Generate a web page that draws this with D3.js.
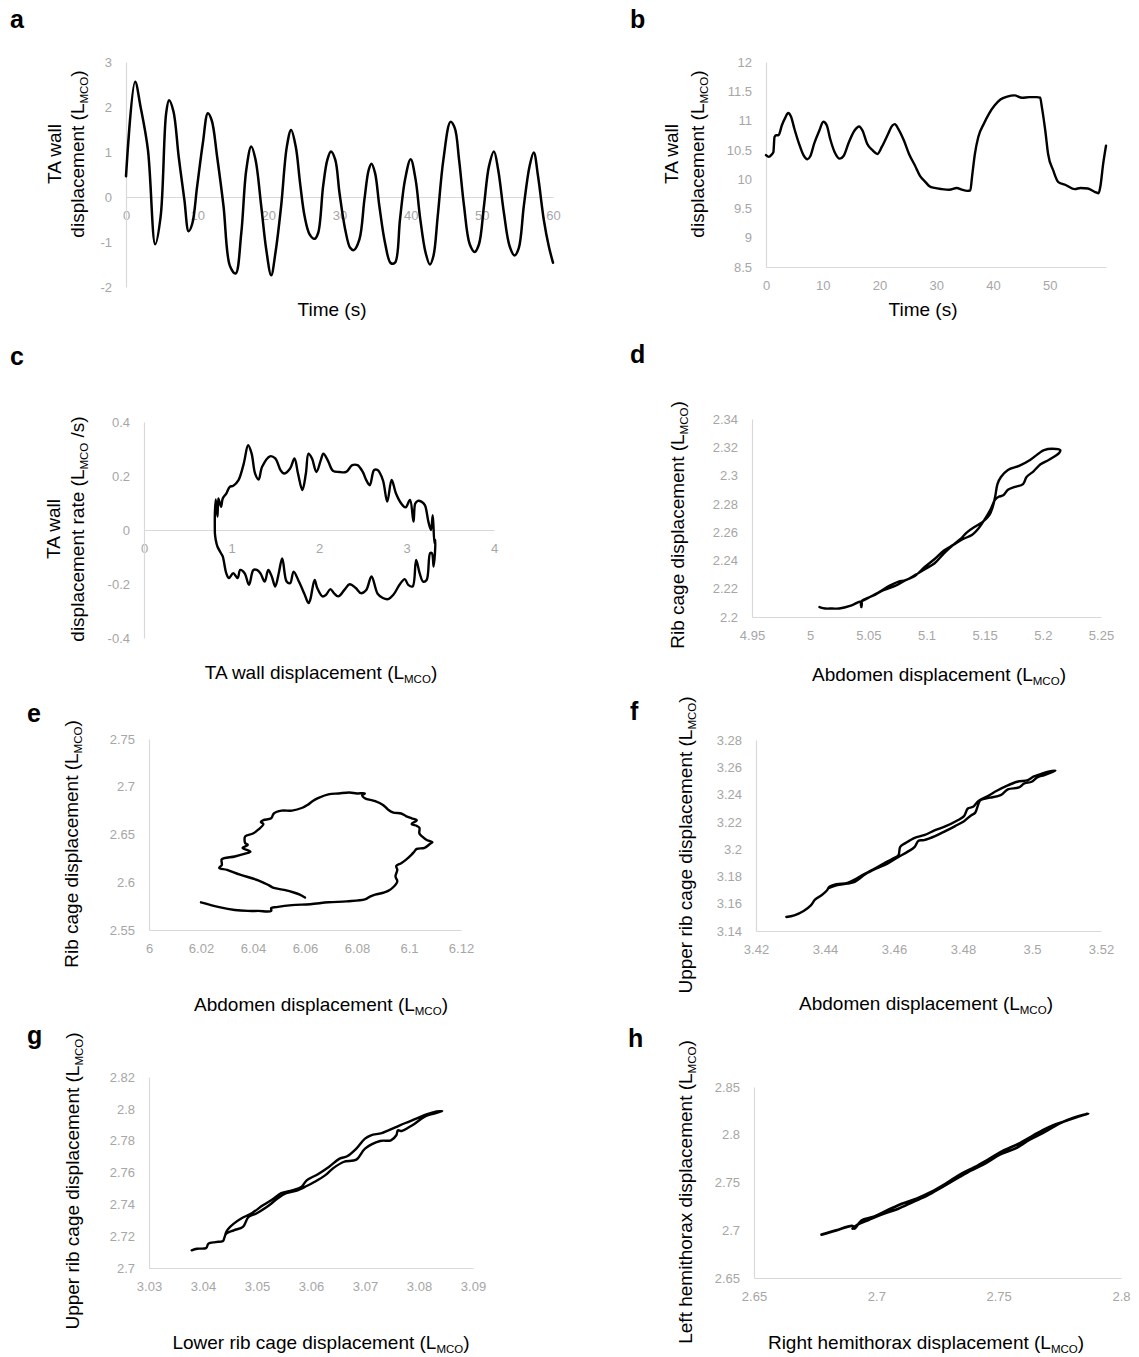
<!DOCTYPE html>
<html>
<head>
<meta charset="utf-8">
<script src="https://cdn.jsdelivr.net/npm/d3@7"></script>
<style>
  body { margin: 0; background: #fff; }
  svg { display: block; }
</style>
</head>
<body>
<svg id="fig" width="1139" height="1357"></svg>
<script>
// ---- data ----
// a: TA wall displacement vs time
var aTime = [0,1.28,2.05,3.08,4.1,4.87,5.64,6.05,6.67,7.4,8.2,8.8,9.3,10,10.8,11.5,12.05,12.8,13.7,14.6,15.4,16.2,16.9,17.6,18.2,19.0,19.7,20.4,21.0,21.8,22.6,23.2,23.85,24.46,25.1,25.8,26.5,27.0,27.7,28.3,28.8,29.4,30.0,30.8,31.5,32.0,32.8,33.5,34.1,34.5,35.0,35.6,36.4,37.2,37.8,38.5,39.2,40.0,40.7,41.3,42.1,42.7,43.2,43.8,44.6,45.6,46.2,46.8,47.5,48.3,49.0,49.6,50.3,51.0,51.7,52.3,53.1,53.9,54.6,55.2,55.9,56.7,57.3,57.9,58.7,59.4,60];
var aDisp = [0.46,2.56,2.0,1.05,-1.05,-0.43,1.86,2.15,1.9,0.9,-0.06,-0.76,-0.6,0.24,1.2,1.86,1.7,0.9,-0.2,-1.53,-1.7,-0.8,0.6,1.12,0.83,-0.2,-1.16,-1.74,-1.24,-0.2,1.12,1.49,1.12,0.31,-0.43,-0.83,-0.93,-0.8,0.24,0.83,1.01,0.83,0.09,-0.72,-1.13,-1.18,-0.94,-0.06,0.6,0.74,0.53,-0.2,-1.02,-1.47,-1.46,-0.5,0.38,0.84,0.38,-0.43,-1.24,-1.5,-1.31,-0.43,0.83,1.67,1.53,0.83,-0.2,-1.05,-1.22,-1.05,-0.2,0.68,1.01,0.6,-0.35,-1.09,-1.3,-1.13,-0.2,0.68,0.99,0.46,-0.5,-1.09,-1.46];
var aXTicks = [0,10,20,30,40,50,60];
var aYTicks = [-2,-1,0,1,2,3];

// b: TA wall displacement vs time
var bTime = [0,0.5,1.0,1.3,1.5,1.8,2.2,2.8,3.4,3.9,4.4,5.0,5.8,6.6,7.3,7.8,8.5,9.4,10.1,10.7,11.3,12.1,13.0,13.7,14.6,15.6,16.4,17.0,17.8,18.8,19.6,20.4,21.4,22.3,22.7,23.3,24.3,25.2,26.2,27.1,28.1,28.8,29.7,31.0,32.3,33.6,34.5,35.5,36.0,36.3,36.8,37.4,38.4,39.3,40.3,41.3,42.5,43.8,45.1,46.4,47.7,48.3,48.6,49.2,49.7,50.6,51.5,52.8,54.4,55.4,56.7,58.0,58.6,58.9,59.4,59.9];
var bDisp = [10.41,10.38,10.42,10.46,10.72,10.75,10.75,10.92,11.05,11.13,11.07,10.86,10.61,10.41,10.34,10.39,10.61,10.83,10.98,10.92,10.69,10.46,10.35,10.4,10.63,10.83,10.90,10.83,10.61,10.49,10.43,10.55,10.75,10.92,10.94,10.86,10.66,10.43,10.24,10.06,9.95,9.88,9.85,9.83,9.82,9.85,9.82,9.80,9.81,10.04,10.43,10.72,10.95,11.12,11.26,11.36,11.41,11.43,11.39,11.40,11.40,11.39,11.23,10.83,10.43,10.15,9.95,9.90,9.83,9.85,9.84,9.78,9.76,9.87,10.26,10.57];
var bXTicks = [0,10,20,30,40,50];
var bYTicks = [8.5,9,9.5,10,10.5,11,11.5,12];

// c: displacement rate vs displacement (phase loop)
var cDisp = [0.81,0.81,0.82,0.84,0.85,0.88,0.90,0.94,0.98,1.02,1.08,1.14,1.19,1.23,1.27,1.31,1.35,1.44,1.50,1.56,1.60,1.67,1.72,1.76,1.81,1.85,1.88,1.92,1.97,2.02,2.05,2.10,2.16,2.23,2.31,2.38,2.44,2.50,2.54,2.58,2.63,2.67,2.73,2.78,2.83,2.88,2.94,2.99,3.04,3.08,3.10,3.13,3.17,3.21,3.25,3.28,3.30,3.32,3.33,3.31,3.29,
  3.27,3.23,3.19,3.15,3.11,3.07,3.02,2.98,2.92,2.85,2.79,2.73,2.67,2.60,2.54,2.48,2.42,2.35,2.29,2.22,2.17,2.13,2.08,2.04,1.98,1.95,1.90,1.88,1.83,1.77,1.71,1.67,1.63,1.58,1.54,1.50,1.46,1.42,1.38,1.33,1.29,1.25,1.20,1.15,1.10,1.07,1.02,0.97,0.94,0.90,0.88,0.84,0.82,0.81];
var cRate = [-0.012,0.06,0.113,0.05,0.117,0.086,0.117,0.135,0.16,0.164,0.185,0.246,0.314,0.283,0.209,0.187,0.234,0.273,0.265,0.222,0.209,0.228,0.265,0.209,0.148,0.209,0.283,0.265,0.215,0.258,0.283,0.258,0.219,0.215,0.215,0.240,0.240,0.215,0.185,0.166,0.222,0.222,0.185,0.105,0.185,0.135,0.098,0.084,0.111,0.031,0.098,0.108,0.105,0.092,0.031,0.0,0.055,-0.049,-0.037,-0.135,-0.086,
  -0.086,-0.185,-0.191,-0.160,-0.111,-0.209,-0.203,-0.182,-0.203,-0.240,-0.256,-0.252,-0.236,-0.172,-0.222,-0.234,-0.215,-0.201,-0.222,-0.246,-0.234,-0.219,-0.240,-0.246,-0.215,-0.185,-0.258,-0.271,-0.234,-0.191,-0.154,-0.197,-0.191,-0.105,-0.160,-0.209,-0.172,-0.148,-0.191,-0.160,-0.148,-0.148,-0.203,-0.160,-0.148,-0.178,-0.160,-0.178,-0.160,-0.098,-0.086,-0.062,-0.037,-0.012];
var cXTicks = [0,1,2,3,4];
var cYTicks = [-0.4,-0.2,0,0.2,0.4];

// d: rib cage vs abdomen
var dAbd = [5.008,5.013,5.019,5.025,5.035,5.044,5.044,5.044,5.054,5.063,5.073,5.082,5.090,5.098,5.107,5.115,5.123,5.131,5.139,5.145,5.150,5.155,5.159,5.162,5.166,5.170,5.176,5.183,5.186,5.192,5.198,5.205,5.211,5.214,5.215,5.208,5.201,5.197,5.189,5.180,5.170,5.164,5.161,5.159,5.157,5.154,5.148,5.142,5.135,5.129,5.123,5.115,5.107,5.099,5.091,5.082,5.076,5.068,5.060,5.051,5.044];
var dRib = [2.207,2.206,2.206,2.206,2.208,2.211,2.207,2.211,2.215,2.219,2.222,2.226,2.229,2.235,2.241,2.247,2.251,2.255,2.258,2.263,2.269,2.276,2.283,2.285,2.286,2.290,2.292,2.294,2.299,2.303,2.308,2.311,2.314,2.316,2.318,2.319,2.318,2.316,2.311,2.307,2.304,2.299,2.294,2.285,2.278,2.272,2.267,2.264,2.260,2.255,2.251,2.245,2.238,2.234,2.230,2.226,2.225,2.222,2.218,2.214,2.211];
var dXTicks = [4.95,5,5.05,5.1,5.15,5.2,5.25];
var dYTicks = [2.2,2.22,2.24,2.26,2.28,2.3,2.32,2.34];

// e: rib cage vs abdomen
var eAbd = [6.020,6.027,6.033,6.038,6.042,6.047,6.047,6.049,6.055,6.062,6.069,6.076,6.083,6.085,6.087,6.090,6.092,6.094,6.0955,6.0948,6.0955,6.0951,6.097,6.099,6.101,6.102,6.103,6.106,6.108,6.109,6.107,6.105,6.104,6.104,6.103,6.101,6.103,6.101,6.099,6.097,6.094,6.092,6.090,6.087,6.083,6.082,6.083,6.080,6.077,6.073,6.069,6.065,6.063,6.061,6.059,6.055,6.051,6.048,6.047,6.044,6.043,6.044,6.042,6.040,6.037,6.037,6.038,6.036,6.039,6.037,6.033,6.028,6.028,6.028,6.027,6.030,6.035,6.042,6.046,6.048,6.052,6.056,6.058,6.060];
var eRib = [2.579,2.574,2.571,2.570,2.570,2.570,2.573,2.574,2.576,2.577,2.579,2.580,2.582,2.585,2.587,2.589,2.591,2.595,2.601,2.606,2.613,2.617,2.620,2.624,2.629,2.632,2.635,2.636,2.640,2.642,2.644,2.648,2.651,2.657,2.659,2.661,2.665,2.667,2.669,2.672,2.673,2.676,2.681,2.685,2.688,2.691,2.693,2.693,2.694,2.693,2.692,2.688,2.685,2.681,2.678,2.675,2.675,2.672,2.667,2.665,2.663,2.661,2.655,2.651,2.648,2.641,2.639,2.636,2.632,2.630,2.627,2.624,2.620,2.618,2.615,2.613,2.608,2.602,2.597,2.594,2.592,2.589,2.587,2.584];
var eXTicks = [6,6.02,6.04,6.06,6.08,6.1,6.12];
var eYTicks = [2.55,2.6,2.65,2.7,2.75];

// f: upper rib cage vs abdomen
var fAbd = [3.4288,3.4311,3.4338,3.4359,3.4371,3.4390,3.4406,3.4412,3.4433,3.4465,3.4486,3.4507,3.4539,3.4570,3.4597,3.4613,3.4618,3.4634,3.4660,3.4687,3.4719,3.4750,3.4782,3.4803,3.4814,3.4829,3.4845,3.4872,3.4898,3.4925,3.4957,3.4988,3.5004,3.5025,3.5047,3.5068,3.5036,3.5015,3.4999,3.4978,3.4962,3.4930,3.4909,3.4878,3.4851,3.4835,3.4824,3.4803,3.4777,3.4750,3.4719,3.4687,3.4671,3.4660,3.4639,3.4613,3.4581,3.4549,3.4517,3.4486,3.4465,3.4433,3.4412];
var fRib = [3.1503,3.1515,3.1547,3.1588,3.1630,3.1662,3.1699,3.1723,3.1743,3.1752,3.1777,3.1809,3.1850,3.1894,3.1931,3.1956,3.2017,3.2046,3.2083,3.2102,3.2139,3.2168,3.2208,3.2242,3.2298,3.2310,3.2354,3.2389,3.2428,3.2462,3.2494,3.2506,3.2531,3.2550,3.2567,3.2575,3.2543,3.2526,3.2494,3.2482,3.2452,3.2438,3.2396,3.2377,3.2359,3.2266,3.2249,3.2205,3.2169,3.2134,3.2095,3.2066,3.2061,3.2017,3.1980,3.1943,3.1894,3.1858,3.1816,3.1760,3.1747,3.1735,3.1716];
var fXTicks = [3.42,3.44,3.46,3.48,3.5,3.52];
var fYTicks = [3.14,3.16,3.18,3.2,3.22,3.24,3.26,3.28];

// g: upper vs lower rib cage
var gLow = [3.0379,3.0389,3.0406,3.0410,3.0423,3.0437,3.0440,3.0443,3.0447,3.0457,3.0470,3.0491,3.0511,3.0531,3.0545,3.0565,3.0582,3.0592,3.0612,3.0633,3.0653,3.0667,3.0684,3.0700,3.0711,3.0731,3.0755,3.0775,3.0795,3.0815,3.0829,3.0843,3.0826,3.0809,3.0792,3.0782,3.0768,3.0761,3.0758,3.0748,3.0728,3.0700,3.0684,3.0660,3.0640,3.0626,3.0606,3.0592,3.0572,3.0552,3.0538,3.0518,3.0498,3.0484,3.0474,3.0457,3.0443,3.0440];
var gUp = [2.7111,2.7121,2.7126,2.7153,2.7163,2.7170,2.7195,2.7226,2.7247,2.7279,2.7310,2.7346,2.7394,2.7436,2.7471,2.7488,2.7509,2.7551,2.7588,2.7635,2.7687,2.7702,2.7750,2.7813,2.7834,2.7848,2.7882,2.7911,2.7938,2.7966,2.7980,2.7986,2.7969,2.7948,2.7907,2.7886,2.7861,2.7865,2.7834,2.7802,2.7798,2.7750,2.7681,2.7666,2.7624,2.7582,2.7540,2.7515,2.7484,2.7467,2.7436,2.7383,2.7341,2.7320,2.7258,2.7237,2.7216,2.7195];
var gXTicks = [3.03,3.04,3.05,3.06,3.07,3.08,3.09];
var gYTicks = [2.7,2.72,2.74,2.76,2.78,2.8,2.82];

// h: left vs right hemithorax
var hRight = [2.6776,2.6836,2.6903,2.6910,2.6940,2.6985,2.7045,2.7104,2.7164,2.7224,2.7284,2.7343,2.7403,2.7463,2.7522,2.7582,2.7642,2.7701,2.7761,2.7821,2.7866,2.7806,2.7746,2.7687,2.7627,2.7567,2.7507,2.7448,2.7388,2.7328,2.7269,2.7209,2.7149,2.7090,2.7030,2.6970,2.6925,2.6903];
var hLeft = [2.6954,2.6999,2.7044,2.7017,2.7104,2.7139,2.7209,2.7278,2.7331,2.7401,2.7488,2.7585,2.7662,2.7750,2.7837,2.7907,2.7994,2.8074,2.8133,2.8186,2.8221,2.8179,2.8116,2.8029,2.7949,2.7855,2.7795,2.7704,2.7627,2.7540,2.7453,2.7366,2.7296,2.7226,2.7174,2.7111,2.7062,2.7017];
var hXTicks = [2.65,2.7,2.75,2.8];
var hYTicks = [2.65,2.7,2.75,2.8,2.85];

// ---- drawing ----
var svg = d3.select('#fig');
var fontFam = "'Liberation Sans', Arial, sans-serif";
var axisGrey = '#d9d9d9';
var tickGrey = '#a6a6a6';

function addTitle(x, y, rotated, pre, sub, post) {
  var t = svg.append('text')
    .attr('transform', 'translate(' + x + ',' + y + ')' + (rotated ? ' rotate(-90)' : ''))
    .attr('text-anchor', 'middle')
    .attr('font-family', fontFam)
    .attr('font-size', 19)
    .attr('fill', '#000');
  t.append('tspan').text(pre);
  if (sub) {
    t.append('tspan').attr('font-size', 11.5).attr('dy', 4).text(sub);
    t.append('tspan').attr('dy', -4).text(post);
  }
}

function drawPanel(p) {
  var x = d3.scaleLinear().domain(p.xDom).range(p.xr);
  var y = d3.scaleLinear().domain(p.yDom).range(p.yr);
  var g = svg.append('g');

  var fmt = function(d) { return String(d); };

  var xAxis = g.append('g')
    .attr('transform', 'translate(0,' + y(p.xAt) + ')')
    .call(d3.axisBottom(x).tickValues(p.xT).tickSize(0).tickSizeOuter(0).tickPadding(14).tickFormat(fmt));
  var yAxis = g.append('g')
    .attr('transform', 'translate(' + x(p.xDom[0]) + ',0)')
    .call(d3.axisLeft(y).tickValues(p.yT).tickSize(0).tickSizeOuter(0).tickPadding(14).tickFormat(fmt));

  [xAxis, yAxis].forEach(function(ax) {
    ax.select('.domain').attr('stroke', axisGrey).attr('stroke-width', 1.2);
    ax.selectAll('text').attr('fill', tickGrey).attr('font-size', 13).attr('font-family', fontFam);
  });

  var pts = d3.zip(p.xs, p.ys);
  var line = d3.line()
    .x(function(d) { return x(d[0]); })
    .y(function(d) { return y(d[1]); })
    .curve(p.curve);
  g.append('path')
    .datum(pts)
    .attr('d', line)
    .attr('fill', 'none')
    .attr('stroke', '#000')
    .attr('stroke-width', p.sw || 2.4)
    .attr('stroke-linejoin', 'round')
    .attr('stroke-linecap', 'round');

  svg.append('text')
    .attr('x', p.lx).attr('y', p.ly)
    .attr('font-family', fontFam)
    .attr('font-weight', 'bold')
    .attr('font-size', 25)
    .text(p.label);
}

var loop = d3.curveCatmullRom.alpha(0.5);

drawPanel({label:'a', lx:10, ly:28, xs:aTime, ys:aDisp, xDom:[0,60], yDom:[-2,3], xr:[126,553], yr:[287,62], xT:aXTicks, yT:aYTicks, xAt:0, curve:loop, sw:2.5});
drawPanel({label:'b', lx:630, ly:28, xs:bTime, ys:bDisp, xDom:[0,59.9], yDom:[8.5,12], xr:[766,1106], yr:[267,62], xT:bXTicks, yT:bYTicks, xAt:8.5, curve:d3.curveMonotoneX});
drawPanel({label:'c', lx:10, ly:365, xs:cDisp, ys:cRate, xDom:[0,4], yDom:[-0.4,0.4], xr:[144,494], yr:[638,422], xT:cXTicks, yT:cYTicks, xAt:0, curve:loop});
drawPanel({label:'d', lx:630, ly:363, xs:dAbd, ys:dRib, xDom:[4.95,5.25], yDom:[2.2,2.34], xr:[752,1101], yr:[617,419], xT:dXTicks, yT:dYTicks, xAt:2.2, curve:loop});
drawPanel({label:'e', lx:27, ly:722, xs:eAbd, ys:eRib, xDom:[6,6.12], yDom:[2.55,2.75], xr:[149,461], yr:[930,739], xT:eXTicks, yT:eYTicks, xAt:2.55, curve:loop});
drawPanel({label:'f', lx:630, ly:720, xs:fAbd, ys:fRib, xDom:[3.42,3.52], yDom:[3.14,3.28], xr:[756,1101], yr:[931,740], xT:fXTicks, yT:fYTicks, xAt:3.14, curve:loop});
drawPanel({label:'g', lx:27, ly:1044, xs:gLow, ys:gUp, xDom:[3.03,3.09], yDom:[2.7,2.82], xr:[149,473], yr:[1268,1077], xT:gXTicks, yT:gYTicks, xAt:2.7, curve:loop});
drawPanel({label:'h', lx:628, ly:1047, xs:hRight, ys:hLeft, xDom:[2.65,2.8], yDom:[2.65,2.85], xr:[754,1121], yr:[1278,1087], xT:hXTicks, yT:hYTicks, xAt:2.65, curve:loop, sw:2.7});

// axis titles
addTitle(332, 316, false, 'Time (s)');
addTitle(61, 154, true, 'TA wall');
addTitle(84, 154, true, 'displacement (L', 'MCO', ')');

addTitle(923, 316, false, 'Time (s)');
addTitle(678, 154, true, 'TA wall');
addTitle(704, 154, true, 'displacement (L', 'MCO', ')');

addTitle(321, 679, false, 'TA wall displacement (L', 'MCO', ')');
addTitle(60, 529, true, 'TA wall');
addTitle(84, 529, true, 'displacement rate (L', 'MCO', ' /s)');

addTitle(939, 681, false, 'Abdomen displacement (L', 'MCO', ')');
addTitle(684, 525, true, 'Rib cage displacement (L', 'MCO', ')');

addTitle(321, 1011, false, 'Abdomen displacement (L', 'MCO', ')');
addTitle(78, 844, true, 'Rib cage displacement (L', 'MCO', ')');

addTitle(926, 1010, false, 'Abdomen displacement (L', 'MCO', ')');
addTitle(692, 845, true, 'Upper rib cage displacement (L', 'MCO', ')');

addTitle(321, 1349, false, 'Lower rib cage displacement (L', 'MCO', ')');
addTitle(79, 1181, true, 'Upper rib cage displacement (L', 'MCO', ')');

addTitle(926, 1349, false, 'Right hemithorax displacement (L', 'MCO', ')');
addTitle(692, 1192, true, 'Left hemithorax displacement (L', 'MCO', ')');
</script>
</body>
</html>
